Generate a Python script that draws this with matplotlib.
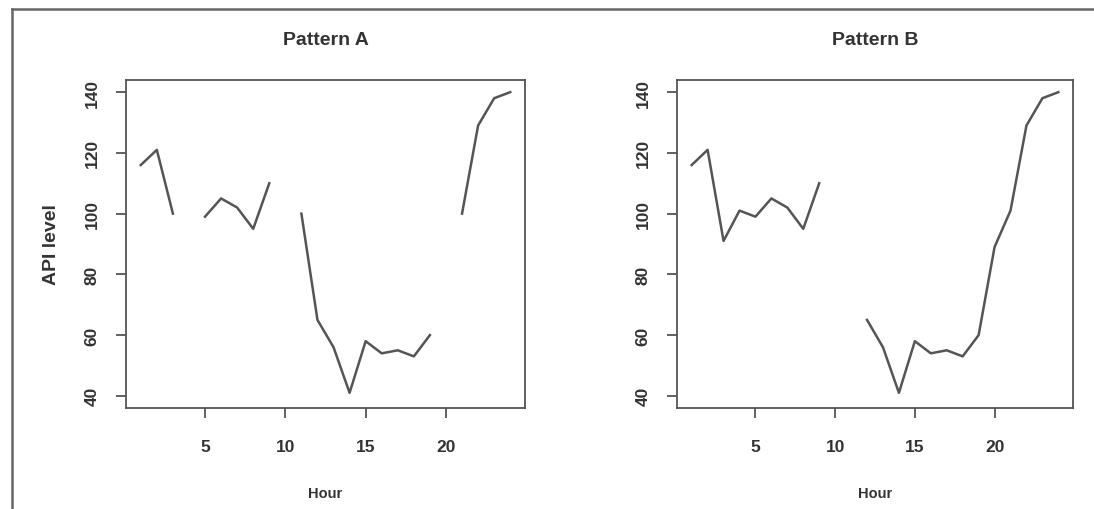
import numpy as np
import matplotlib; matplotlib.use('Agg')
import matplotlib.pyplot as plt
from matplotlib.lines import Line2D

plt.rcParams['font.family'] = ['Liberation Sans', 'DejaVu Sans']

nan = np.nan
hours = np.arange(1, 25)
pattern_a = [116, 121, 100, nan, 99, 105, 102, 95, 110, nan, 100, 65,
             56, 41, 58, 54, 55, 53, 60, nan, 100, 129, 138, 140]
pattern_b = [116, 121, 91, 101, 99, 105, 102, 95, 110, nan, nan, 65,
             56, 41, 58, 54, 55, 53, 60, 89, 101, 129, 138, 140]
titles = ['Pattern A', 'Pattern B']
xticks = [5, 10, 15, 20]
yticks = [40, 60, 80, 100, 120, 140]

W, H = 1094, 510
fig = plt.figure(figsize=(W/100, H/100), dpi=100)
txt = '#333333'
edge = '#555555'

boxes = [(126, 525), (677, 1073)]
for k, (series, title) in enumerate(zip([pattern_a, pattern_b], titles)):
    x0, x1 = boxes[k]
    ax = fig.add_axes([x0/W, 1-409/H, (x1-x0)/W, (409-81)/H])
    ax.plot(hours, series, color='#555555', lw=1.8)
    ax.set_xlim(0.08, 24.92); ax.set_ylim(36, 144)
    ax.set_xticks(xticks); ax.set_yticks(yticks)
    for s in ax.spines.values():
        s.set_color(edge); s.set_linewidth(1.3)
    ax.tick_params(length=7, width=1.3, color=edge, labelcolor=txt, labelsize=12.5)
    ax.tick_params(axis='x', pad=15)
    ax.tick_params(axis='y', pad=12, labelrotation=90)
    for lab in ax.get_yticklabels():
        lab.set_va('center')
    for lab in ax.get_xticklabels() + ax.get_yticklabels():
        lab.set_fontweight('bold')
    ax.set_title(title, fontsize=14, fontweight='bold', color=txt, pad=26)
    ax.set_xlabel('Hour', fontsize=10.5, fontweight='bold', color=txt, labelpad=23)
    if k == 0:
        ax.set_ylabel('API level', fontsize=14, fontweight='bold', color=txt, labelpad=18)

# outer frame (top and left edges only)
fig.add_artist(Line2D([12/W, 12/W], [0, 1-10/H], color='#666666', lw=1.8))
fig.add_artist(Line2D([12/W, 1], [1-10/H, 1-10/H], color='#666666', lw=1.8))

fig.savefig('out.png', dpi=100)
